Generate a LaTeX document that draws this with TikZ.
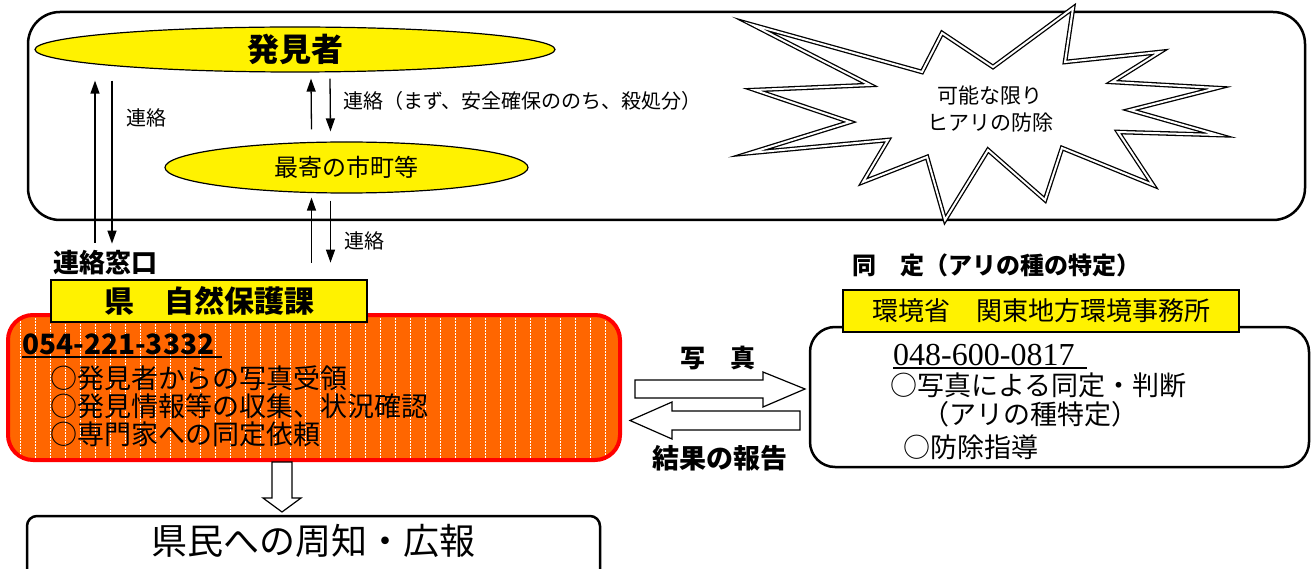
\documentclass[tikz,border=0pt]{standalone}
\usepackage{fontspec}
\setmainfont{Noto Sans CJK JP}
\newfontfamily\numserif{Liberation Serif}
\usetikzlibrary{shapes.geometric,arrows.meta}
\definecolor{hiorange}{HTML}{FF6600}
\newcommand\fsz[1]{\fontsize{#1}{#1}\selectfont}
\begin{document}
\begin{tikzpicture}[x=1pt,y=-1pt,
	elli/.style={ellipse,draw,fill=yellow,line width=1.2pt,inner sep=0pt},
	ybox/.style={draw,fill=yellow,line width=1.2pt,inner sep=0pt},
	arr/.style={line width=1.3pt,-{Triangle[length=13pt,width=9pt]}},
	blk/.style={draw,fill=white,line width=1.2pt,line join=miter},
	lbl/.style={anchor=west,inner sep=0pt,font=\fsz{20}}]
	\useasboundingbox (0,0) rectangle (1313,569);
	\clip (0,0) rectangle (1313,569);
	\draw[line width=2.5pt,rounded corners=32pt] (28,12) rectangle (1305,220);
	\node (hak) at (295,49.5) [elli,minimum width=520pt,minimum height=45pt,font=\fsz{32}\bfseries] {発見者};
	\node (mo) at (346.5,167.5) [elli,minimum width=363pt,minimum height=51pt,font=\fsz{24}] {最寄の市町等};
	\draw[line width=1.3pt,double=white,double distance=2pt,line join=miter]
		(753,25) -- (922,72) -- (942,33) -- (993,67) -- (1073,8) -- (1065,62) -- (1160,52) -- (1112,82)
		-- (1217,88) -- (1130,110) -- (1218,135) -- (1118,132) -- (1153,185) -- (1062,148) -- (1045,200)
		-- (988,150) -- (945,220) -- (927,157) -- (863,182) -- (888,140) -- (750,153) -- (850,122)
		-- (755,90) -- (870,85) -- cycle;
	\node (hiari) at (990,109) [align=center,inner sep=0pt,font=\fontsize{21}{27}\selectfont] {可能な限り\\ヒアリの防除};
	\draw[arr] ([xshift=-200pt,yshift=-170pt]hak.south) -- ([xshift=-200pt,yshift=-8pt]hak.south);
	\draw[arr] ([xshift=-183pt,yshift=-8pt]hak.south) -- ([xshift=-183pt,yshift=-171pt]hak.south);
	\draw[arr] ([xshift=-35pt,yshift=12pt]mo.north) -- ([xshift=16pt,yshift=-6pt]hak.south);
	\draw[arr] ([xshift=35pt,yshift=-6pt]hak.south) -- ([xshift=-16pt,yshift=10pt]mo.north);
	\draw[arr] ([xshift=-35pt,yshift=-69pt]mo.south) -- ([xshift=-35pt,yshift=-4pt]mo.south);
	\draw[arr] ([xshift=-16pt,yshift=-7pt]mo.south) -- ([xshift=-16pt,yshift=-69pt]mo.south);
	\node (l1) at (126,118) [lbl] {連絡};
	\node (l2) at (343,101) [lbl] {連絡（まず、安全確保ののち、殺処分）};
	\node (l3) at (344,241) [lbl] {連絡};
	\node (mad) at (53,263) [lbl,font=\fsz{26}\bfseries] {連絡窓口};
	\fill[hiorange] (8,315) [rounded corners=25pt] rectangle (620,460);
	\begin{scope}
		\clip (8,315) [rounded corners=25pt] rectangle (620,460);
		\foreach \i in {0,...,40}
			\draw[white,line width=0.6pt,dash pattern=on 1.5pt off 1.5pt] (20+15*\i,315) -- (20+15*\i,460);
	\end{scope}
	\draw[red,line width=4pt,rounded corners=25pt] (8,315) rectangle (620,460);
	\node (ken) at (209,301) [ybox,minimum width=316pt,minimum height=42pt,font=\fsz{30}\bfseries] {県　自然保護課};
	\node (tel1) at (22,344) [anchor=west,inner sep=0pt,font=\fsz{28}\bfseries] {054-221-3332};
	\draw[line width=2.5pt] (22,357) -- (222,357);
	\node (kenlist) at (50,406) [anchor=west,align=left,inner sep=0pt,font=\fontsize{27}{28}\selectfont] {○発見者からの写真受領\\○発見情報等の収集、状況確認\\○専門家への同定依頼};
	\draw[blk] (272,462) -- (272,498) -- (263,498) -- (282,512) -- (301,498) -- (292,498) -- (292,462) -- cycle;
	\draw[line width=2.5pt,rounded corners=10pt] (27,516) rectangle (600,600);
	\node (kenmin) at (313,541) [inner sep=0pt,font=\fsz{36}] {県民への周知・広報};
	\node (sha) at (718,358) [inner sep=0pt,font=\fsz{25}\bfseries] {写　真};
	\draw[blk] (635,380) -- (763,380) -- (763,372) -- (805,389) -- (763,407) -- (763,398) -- (635,398) -- cycle;
	\draw[blk] (800,411) -- (672,411) -- (672,402) -- (630,420.5) -- (672,439) -- (672,430) -- (800,430) -- cycle;
	\node (kek) at (720,458) [inner sep=0pt,font=\fsz{27}\bfseries] {結果の報告};
	\node (dou) at (852,265) [anchor=west,inner sep=0pt,font=\fsz{24}\bfseries] {同　定（アリの種の特定）};
	\draw[line width=2.5pt,rounded corners=25pt] (810,327) rectangle (1309,467);
	\node (kan) at (1041,311) [ybox,minimum width=396pt,minimum height=42pt,font=\fsz{26}] {環境省　関東地方環境事務所};
	\node (tel2) at (893,355) [anchor=west,inner sep=0pt,font=\fsz{32}\numserif] {048-600-0817};
	\draw[line width=1.5pt] (893,368) -- (1087,368);
	\node (id1) at (890,385) [anchor=west,inner sep=0pt,font=\fsz{27}] {○写真による同定・判断};
	\node (id2) at (922,414) [anchor=west,inner sep=0pt,font=\fsz{27}] {（アリの種特定）};
	\node (id3) at (903,447) [anchor=west,inner sep=0pt,font=\fsz{27}] {○防除指導};
\end{tikzpicture}
\end{document}
